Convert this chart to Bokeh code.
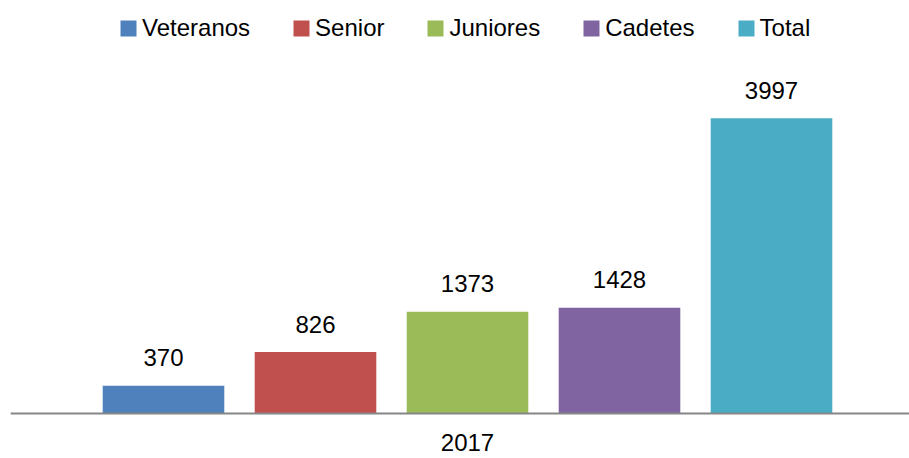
from bokeh.plotting import figure
from bokeh.models import ColumnDataSource, FixedTicker, Range1d
from bokeh.core.properties import value
from bokeh.embed import file_html
from bokeh.resources import INLINE

# ---- data ----
categories = ["Veteranos", "Senior", "Juniores", "Cadetes", "Total"]
values_2017 = [370, 826, 1373, 1428, 3997]
colors = ["#4F81BD", "#C0504D", "#9BBB59", "#8064A2", "#4BACC6"]
group_label = "2017"

FONT = "Liberation Sans"

# ---- layout constants (pixels) ----
W, H = 909, 458
frame_left, frame_right = 10, 0
px_per_step = 152.0
first_center_px = 153.0           # from frame left
zero_px_from_top = 412.5          # y=0 position inside frame
px_per_unit = (412.5 - 117.7) / 3997.0

x_start = -first_center_px / px_per_step
x_end = x_start + (W - frame_left - frame_right) / px_per_step
y_start = -(H - zero_px_from_top) / px_per_unit
y_end = zero_px_from_top / px_per_unit

xs = list(range(len(categories)))
src = ColumnDataSource(dict(
    x=xs, v=values_2017, cat=categories, color=colors,
    label=[str(v) for v in values_2017],
))

p = figure(width=W, height=H, output_backend="svg", toolbar_location=None,
           x_range=Range1d(x_start, x_end), y_range=Range1d(y_start, y_end),
           min_border_left=frame_left, min_border_right=frame_right,
           min_border_top=0, min_border_bottom=0)
p.outline_line_color = None
p.xgrid.visible = False
p.ygrid.visible = False
p.yaxis.visible = False

p.vbar(x="x", top="v", bottom=0, width=0.8, color="color", line_color=None,
       source=src, legend_field="cat")

p.text(x="x", y="v", text="label", source=src, text_align="center",
       text_baseline="alphabetic", y_offset=-28, text_color="#000000",
       text_font=value(FONT), text_font_size="24px")

ax = p.xaxis[0]
ax.fixed_location = 0
ax.ticker = FixedTicker(ticks=[2])
ax.major_label_overrides = {2: group_label}
ax.major_tick_out = 0
ax.major_tick_in = 0
ax.minor_tick_out = 0
ax.minor_tick_in = 0
ax.axis_line_color = "#868686"
ax.axis_line_width = 2
ax.major_label_standoff = 21
ax.major_label_text_font = FONT
ax.major_label_text_font_size = "24px"
ax.major_label_text_color = "#000000"

lg = p.legend[0]
lg.location = (108, 416)
lg.orientation = "horizontal"
lg.border_line_alpha = 0
lg.background_fill_alpha = 0
lg.padding = 0
lg.margin = 0
lg.spacing = 41
lg.label_standoff = 4
lg.glyph_width = 20
lg.glyph_height = 20
lg.label_text_font = FONT
lg.label_text_font_size = "24px"
lg.label_text_color = "#000000"

open("out.html", "w").write(file_html(p, INLINE))
